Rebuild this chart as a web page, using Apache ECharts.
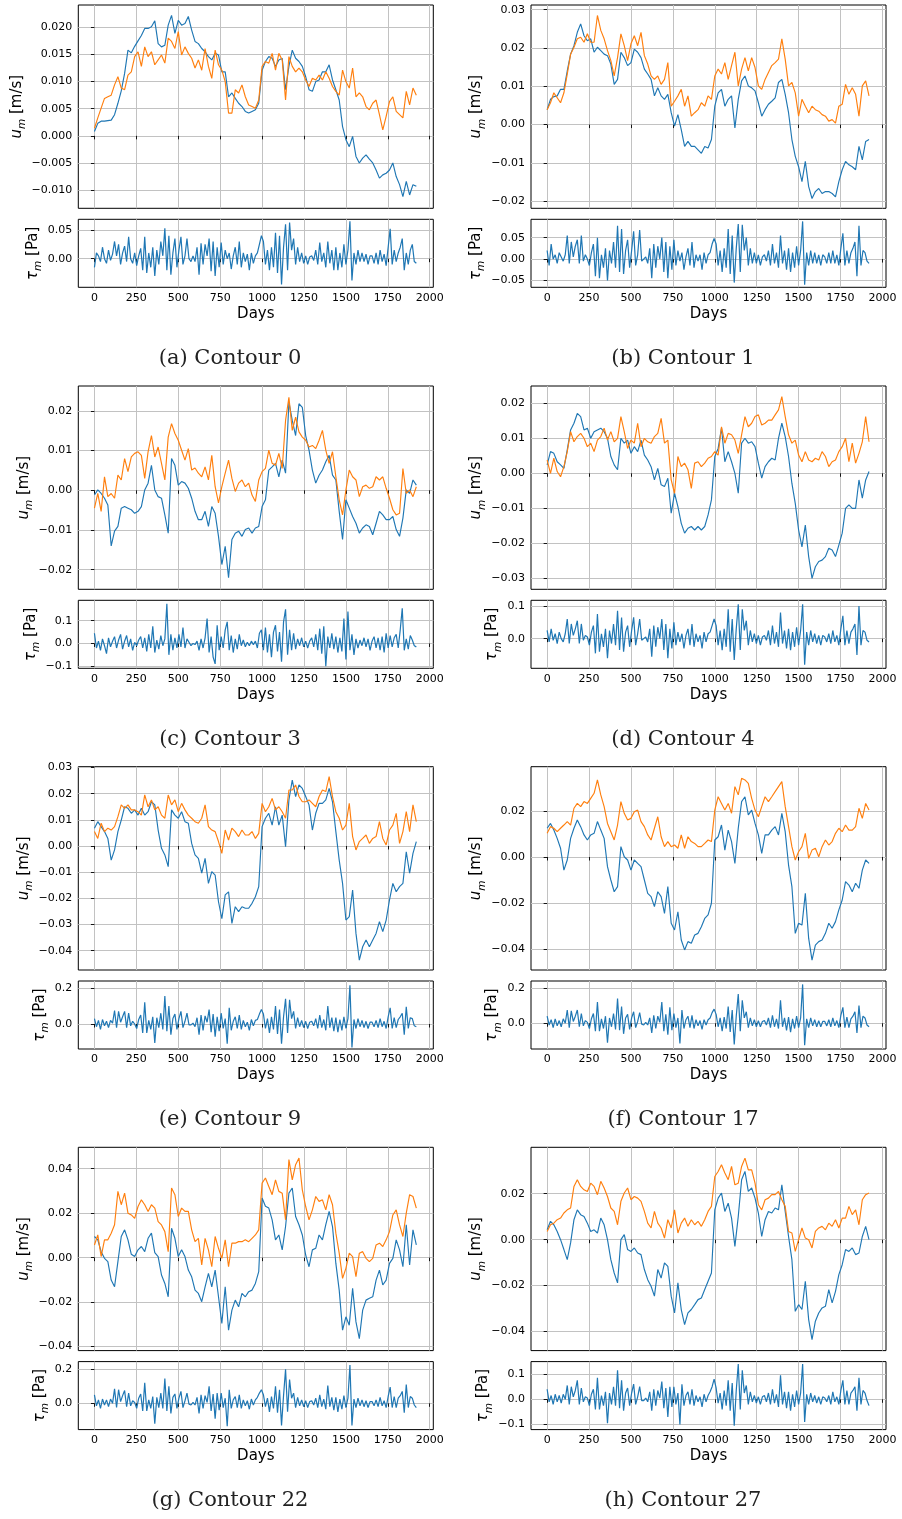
<!DOCTYPE html>
<html>
<head>
<meta charset="utf-8">
<script src="https://cdn.jsdelivr.net/npm/echarts@6/dist/echarts.min.js"></script>
<style>
html,body{margin:0;padding:0;background:#fff;}
#chart{width:902px;height:1519px;}
</style>
</head>
<body>
<div id="chart"></div>
<script>
// Sampling grids in days
const U_STEP = 20;   // u_m series: one sample every 20 days, days 0..1920
const T_STEP = 12;   // tau_m series: one sample every 12 days, days 0..1920
const dayTicks = [0, 250, 500, 750, 1000, 1250, 1500, 1750, 2000];

// ---- u_m in mm/s (blue = first series, orange = second series) ----
const c0Blue = [
  0.8, 2.3, 2.7, 2.7, 2.8, 2.9, 3.9, 6.0, 8.3, 11.5,
  15.8, 15.3, 16.5, 17.5, 18.5, 19.8, 19.8, 20.1, 21.2, 17.0,
  16.4, 16.7, 20.4, 22.2, 18.9, 21.3, 20.4, 20.7, 22.0, 19.5,
  17.4, 17.0, 16.1, 15.5, 14.6, 14.0, 15.2, 14.9, 11.8, 11.8,
  7.2, 7.9, 6.9, 6.0, 5.4, 4.5, 4.2, 4.5, 4.8, 6.0,
  12.1, 13.7, 14.6, 14.3, 12.8, 14.0, 14.3, 8.5, 12.8, 15.8,
  14.3, 13.7, 12.8, 10.9, 8.5, 8.2, 10.0, 10.3, 11.8, 11.8,
  13.1, 10.3, 8.5, 6.6, 1.7, -0.7, -2.0, -0.1, -3.8, -5.0,
  -4.1, -3.5, -4.3, -5.0, -6.3, -7.8, -7.2, -6.9, -6.3, -5.0,
  -7.5, -9.0, -11.2, -8.4, -10.9, -9.0, -9.3
];
const c0Orange = [
  1.4, 3.3, 5.1, 6.9, 7.2, 7.5, 9.4, 10.9, 8.8, 8.5,
  11.2, 11.8, 14.6, 15.5, 12.8, 16.4, 14.6, 15.5, 13.1, 14.0,
  14.9, 13.4, 18.0, 17.4, 16.1, 19.2, 14.9, 16.4, 15.2, 14.3,
  12.5, 14.0, 12.1, 16.1, 12.8, 10.6, 15.8, 13.1, 12.1, 10.0,
  4.2, 4.2, 8.5, 7.9, 9.4, 7.2, 5.7, 5.4, 5.1, 6.6,
  12.8, 13.7, 13.4, 15.2, 12.1, 15.2, 14.0, 6.6, 14.6, 12.8,
  11.8, 12.5, 11.8, 10.3, 9.1, 10.6, 10.3, 11.2, 10.3, 11.8,
  10.6, 9.1, 8.2, 7.5, 12.1, 10.0, 8.8, 12.5, 7.2, 7.9,
  7.2, 5.4, 4.8, 6.0, 6.6, 3.9, 1.1, 3.6, 6.3, 7.2,
  4.5, 3.9, 3.3, 8.2, 5.7, 8.8, 7.5
];
const c1Blue = [
  3.9, 6.6, 7.3, 7.5, 9.2, 9.2, 14.0, 18.4, 20.6, 24.1,
  26.3, 23.2, 21.9, 22.4, 18.9, 20.2, 19.3, 18.4, 18.0, 15.8,
  10.5, 11.8, 18.9, 17.5, 15.4, 16.2, 19.7, 18.9, 17.5, 14.5,
  13.2, 11.8, 7.5, 9.6, 7.5, 6.6, 7.9, 3.1, -0.4, 2.6,
  -1.3, -5.7, -4.4, -5.7, -5.7, -6.6, -7.5, -5.7, -6.1, -3.9,
  4.8, 8.3, 9.2, 4.8, 6.6, 7.5, -0.9, 6.6, 11.4, 12.7,
  10.1, 9.6, 8.8, 5.7, 2.2, 3.9, 5.3, 6.1, 7.0, 11.0,
  11.8, 7.9, 3.1, -3.9, -8.3, -11.0, -14.9, -9.6, -16.2, -19.3,
  -17.5, -16.7, -18.0, -17.5, -17.5, -18.0, -18.9, -14.9, -11.8, -9.6,
  -10.5, -11.0, -11.8, -5.7, -9.2, -4.4, -3.9
];
const c1Orange = [
  3.9, 5.7, 8.3, 7.0, 5.7, 8.3, 13.2, 18.4, 20.2, 22.4,
  22.8, 21.5, 23.7, 21.5, 21.5, 28.5, 24.6, 22.4, 19.3, 16.7,
  12.7, 17.5, 23.7, 20.6, 16.7, 21.1, 23.2, 20.6, 24.1, 18.0,
  15.8, 12.7, 11.8, 12.7, 10.5, 11.8, 16.2, 4.8, 6.1, 7.5,
  9.2, 4.8, 7.5, 2.2, 3.1, 3.9, 5.7, 4.8, 7.5, 6.6,
  12.7, 14.5, 13.2, 16.2, 11.8, 15.4, 18.9, 10.1, 14.5, 17.5,
  14.0, 17.5, 14.9, 10.1, 9.2, 11.8, 13.6, 15.4, 16.2, 17.1,
  22.4, 17.1, 10.1, 11.0, 8.3, 2.2, 6.6, 4.8, 3.1, 4.8,
  3.9, 3.5, 2.6, 2.2, 0.9, 1.3, 0.4, 4.8, 5.3, 10.5,
  7.9, 9.6, 7.9, 2.2, 10.1, 11.4, 7.5
];
const c3Blue = [
  -1.2, 0.1, -0.8, -2.0, -3.7, -14.0, -10.3, -9.1, -4.5, -4.1,
  -4.5, -4.9, -5.8, -5.3, -4.1, 0.1, 1.8, 6.3, 0.1, -1.6,
  -2.0, -6.2, -10.8, 8.0, 6.3, 1.3, 2.2, 1.8, 0.5, -2.0,
  -5.3, -7.4, -7.4, -5.3, -9.1, -4.1, -5.8, -11.6, -18.7, -14.1,
  -22.0, -12.4, -10.8, -10.3, -11.6, -9.9, -9.5, -10.8, -9.5, -9.1,
  -4.1, -2.4, 5.1, 5.9, 6.8, 3.4, 7.6, 4.3, 22.2, 17.6,
  13.8, 21.8, 20.9, 13.8, 10.1, 5.1, 1.8, 3.8, 5.1, 7.2,
  8.8, 3.8, 2.6, -5.3, -12.4, -2.4, -4.5, -6.6, -8.3, -10.8,
  -9.5, -8.7, -9.1, -11.2, -8.3, -5.3, -6.2, -7.4, -7.4, -6.6,
  -9.9, -11.6, -7.0, 0.1, -0.8, 2.6, 1.3
];
const c3Orange = [
  -4.5, -0.8, -5.3, 3.4, -1.6, -0.8, -2.0, 3.8, 2.6, 8.0,
  4.7, 8.4, 9.3, 9.7, 8.8, 3.0, 9.7, 13.8, 8.4, 10.9,
  6.8, 2.6, 13.4, 16.8, 14.3, 12.6, 10.1, 7.6, 10.5, 5.1,
  5.6, 4.3, 3.4, 5.9, 2.6, 8.8, 0.9, -3.2, 0.9, 4.3,
  7.6, 3.0, -0.3, 1.8, 2.6, 0.9, 1.8, -1.2, -2.8, 2.6,
  4.7, 5.5, 10.1, 6.8, 6.3, 9.3, 5.5, 17.6, 23.4, 15.1,
  18.4, 14.7, 13.4, 12.6, 10.9, 11.3, 10.5, 12.6, 15.1, 10.1,
  6.8, 9.7, 3.4, -2.4, -6.2, 0.1, 5.1, 3.4, 2.6, -1.6,
  0.9, 1.3, 0.5, 0.9, 3.4, 2.6, 3.4, 0.5, -2.0, -4.9,
  -6.2, -5.8, 5.5, -0.8, 0.1, -1.6, 0.9
];
const c4Blue = [
  2.4, 6.2, 5.7, 3.3, 2.4, 1.4, 6.7, 12.4, 14.3, 17.1,
  16.2, 12.4, 12.9, 10.0, 11.9, 12.4, 12.9, 11.9, 10.0, 4.8,
  2.4, 1.0, 10.0, 8.6, 9.5, 5.7, 7.6, 6.2, 9.5, 5.2,
  3.8, 1.9, -1.9, 1.4, -3.3, -3.8, -1.4, -11.4, -5.7, -9.5,
  -14.3, -17.1, -15.7, -15.2, -16.2, -15.2, -16.2, -15.2, -11.9, -7.6,
  4.8, 7.1, 12.9, 3.3, 6.2, 3.3, 0.0, -5.7, 8.6, 10.0,
  8.6, 9.0, 7.6, 2.9, -1.4, 1.9, 3.3, 4.3, 3.8, 10.0,
  14.3, 10.5, 4.8, -2.9, -8.6, -16.2, -21.0, -14.8, -23.8, -30.0,
  -26.7, -25.2, -24.8, -23.8, -21.4, -21.9, -23.8, -20.5, -17.1, -10.0,
  -9.0, -10.0, -10.0, -1.9, -7.1, -1.9, 0.5
];
const c4Orange = [
  3.8, 0.0, 4.3, 0.5, -1.0, 1.9, 6.2, 11.9, 9.0, 10.5,
  11.4, 10.0, 7.6, 8.6, 6.2, 9.5, 10.5, 12.9, 9.5, 11.9,
  9.0, 10.0, 16.2, 11.9, 7.1, 9.5, 8.6, 14.3, 7.6, 10.0,
  9.0, 8.6, 10.5, 11.4, 15.7, 8.6, 9.5, -1.9, -5.7, 4.8,
  1.9, 2.9, 1.0, -4.3, 2.9, 3.3, 1.9, 2.9, 4.3, 4.8,
  6.2, 5.2, 13.3, 8.6, 11.4, 11.0, 9.5, 5.7, 11.0, 16.2,
  13.3, 14.3, 16.2, 16.7, 13.8, 14.3, 15.2, 15.2, 16.7, 18.1,
  21.9, 16.2, 11.0, 8.6, 9.5, 5.2, 3.3, 6.2, 3.8, 3.3,
  4.3, 3.8, 6.2, 4.8, 1.9, 3.3, 3.8, 6.2, 7.6, 10.0,
  3.3, 8.6, 2.9, 5.7, 9.0, 16.2, 9.0
];
const c9Blue = [
  6.8, 9.3, 7.4, 5.5, 2.9, -5.4, -1.5, 5.5, 9.9, 15.0,
  14.4, 12.5, 13.8, 11.8, 14.4, 11.8, 13.1, 16.9, 15.7, 6.1,
  -0.9, -3.4, -7.9, 13.8, 11.8, 10.6, 13.1, 9.3, 8.7, 1.0,
  -3.4, -4.7, -10.4, -4.7, -14.3, -9.8, -11.1, -21.3, -27.8, -18.7,
  -17.5, -29.6, -23.2, -25.1, -23.2, -23.8, -23.8, -21.9, -19.4, -15.5,
  7.4, 10.6, 12.5, 8.0, 15.0, 8.0, 11.8, -0.3, 17.6, 25.2,
  18.9, 23.3, 22.0, 18.9, 15.7, 6.1, 12.5, 16.3, 16.3, 17.6,
  22.0, 16.9, 5.5, -5.4, -14.3, -28.3, -27.0, -16.8, -33.4, -43.6,
  -38.5, -35.9, -38.5, -35.9, -33.4, -28.9, -32.7, -28.3, -20.6, -14.3,
  -17.5, -15.5, -14.3, -2.2, -10.4, -2.8, 1.7
];
const c9Orange = [
  5.5, 2.9, 8.7, 5.5, 6.8, 6.1, 7.4, 11.2, 15.7, 14.4,
  15.7, 13.8, 13.8, 13.1, 11.8, 19.5, 15.0, 17.6, 13.8, 15.0,
  11.8, 10.6, 19.5, 15.7, 17.6, 13.1, 16.3, 13.8, 11.8, 10.6,
  9.3, 8.7, 10.6, 15.7, 7.4, 6.1, 5.5, 1.7, -2.8, 6.1,
  2.3, 6.8, 5.5, 3.6, 6.1, 4.2, 4.2, 5.5, 2.9, 4.8,
  16.3, 13.1, 15.0, 18.2, 13.8, 15.0, 13.1, 10.6, 21.4, 21.4,
  23.3, 18.9, 16.9, 16.9, 17.6, 16.3, 15.0, 18.9, 21.4, 20.8,
  26.5, 18.9, 13.1, 10.6, 6.1, 8.0, 16.3, 3.6, -1.5, 1.7,
  2.9, 4.2, 1.0, 2.9, 3.6, 9.3, 2.9, 0.4, 6.1, 8.0,
  12.5, 1.0, 5.5, 13.1, 5.5, 15.7, 9.3
];
const c17Blue = [
  12.5, 14.6, 11.7, 8.1, 3.8, -5.7, -1.3, 8.1, 12.5, 16.1,
  13.2, 9.6, 7.4, 9.6, 10.3, 15.4, 11.7, 8.1, -4.2, -10.0,
  -15.1, -12.9, 4.5, 0.1, -1.3, -5.7, -1.3, -2.8, -4.2, -10.0,
  -15.8, -17.2, -21.6, -15.1, -17.2, -24.5, -12.9, -28.8, -31.7, -23.8,
  -36.1, -40.4, -36.8, -37.5, -33.9, -33.2, -30.3, -26.7, -25.2, -20.1,
  7.4, 8.8, 13.9, 3.0, 11.7, 6.7, -2.8, 12.5, 24.1, 26.2,
  18.3, 20.4, 14.6, 9.6, 1.6, 9.6, 9.6, 11.7, 13.2, 9.6,
  19.0, 11.0, -3.5, -12.9, -33.2, -28.8, -29.6, -15.8, -35.4, -44.8,
  -38.3, -36.8, -36.1, -33.2, -28.8, -31.0, -28.1, -23.0, -18.7, -10.7,
  -12.2, -15.1, -11.4, -13.6, -5.7, -1.3, -2.8
];
const c17Orange = [
  10.3, 13.2, 12.5, 11.0, 12.5, 13.9, 15.4, 13.9, 21.2, 23.3,
  21.9, 24.1, 23.3, 25.5, 27.7, 33.5, 27.0, 21.9, 14.6, 11.0,
  7.4, 13.9, 24.1, 19.0, 16.1, 16.8, 19.7, 20.4, 15.4, 13.2,
  9.6, 7.4, 12.5, 17.5, 8.8, 4.5, 6.7, 4.5, 5.2, 3.8,
  9.6, 3.8, 8.8, 6.7, 5.9, 4.5, 4.5, 5.9, 7.4, 6.7,
  20.4, 26.2, 23.3, 20.4, 23.3, 19.0, 30.6, 27.0, 34.2, 33.5,
  32.0, 25.5, 20.4, 17.5, 21.9, 26.2, 24.1, 26.2, 28.4, 30.6,
  32.8, 21.9, 13.2, 4.5, -1.3, 2.3, 4.5, 10.3, -0.6, 3.0,
  3.8, 0.1, 4.5, 7.4, 5.2, 6.7, 10.3, 12.5, 11.0, 13.9,
  11.7, 11.7, 13.2, 21.2, 16.8, 23.3, 20.4
];
const c22Blue = [
  9.5, 8.0, 2.7, -0.3, -1.8, -10.1, -13.1, -1.8, 9.5, 12.5,
  8.0, 1.5, 0.5, 3.5, 5.0, 2.7, 8.7, 11.0, 2.3, 0.5,
  -7.8, -11.6, -17.6, 13.2, 8.7, 0.5, 3.5, 0.5, -5.6, -8.6,
  -14.6, -16.1, -19.8, -13.1, -7.1, -13.1, -5.6, -17.6, -29.6, -13.1,
  -32.6, -23.6, -19.1, -22.1, -16.1, -17.6, -15.3, -14.6, -11.6, -6.3,
  26.8, 23.1, 22.3, 17.0, 8.0, 10.2, 3.5, 14.0, 29.0, 31.3,
  18.5, 14.8, 10.2, 1.2, -4.1, 3.5, 4.2, 10.2, 8.0, 14.8,
  20.8, 14.0, -2.6, -14.6, -32.6, -26.6, -30.4, -13.8, -28.9, -36.4,
  -23.6, -19.1, -18.3, -17.6, -10.1, -5.6, -12.3, -10.1, -2.6, -0.3,
  8.0, 3.5, -4.1, 14.8, -3.3, 12.5, 5.7
];
const c22Orange = [
  5.7, 10.2, 0.5, 8.0, 8.0, 11.0, 14.8, 29.8, 23.8, 29.0,
  20.0, 19.2, 17.7, 23.0, 26.0, 23.8, 20.8, 23.8, 22.3, 16.2,
  14.7, 11.7, 2.7, 31.3, 28.3, 18.5, 22.3, 20.8, 20.8, 12.5,
  7.2, 8.7, -3.3, 8.7, 3.5, -4.1, 9.5, 4.2, -0.3, 8.0,
  -4.1, 6.5, 6.5, 7.2, 7.2, 8.0, 7.2, 8.7, 10.2, 12.5,
  33.5, 35.8, 32.0, 28.3, 35.0, 29.8, 29.0, 17.0, 44.1, 35.0,
  41.8, 44.8, 30.5, 23.0, 17.0, 21.5, 27.5, 25.3, 26.0, 21.5,
  28.3, 23.8, 11.0, 2.0, -9.3, -4.8, 2.0, 0.5, -8.6, 2.0,
  2.7, -0.3, -1.8, -0.3, 5.7, 6.5, 5.0, 8.0, 11.7, 19.2,
  21.5, 14.7, 9.5, 20.0, 28.3, 27.5, 22.3
];
const c27Blue = [
  4.3, 8.0, 6.5, 3.6, 0.0, -4.3, -8.7, -1.4, 8.7, 13.0,
  10.9, 10.1, 7.2, 3.6, 4.3, 2.9, 9.4, 6.5, 0.0, -8.7,
  -14.5, -18.8, 0.0, 2.2, -4.3, -5.1, -3.6, -5.8, -6.5, -13.0,
  -17.4, -20.3, -24.6, -13.0, -16.7, -10.1, -11.6, -24.6, -31.9, -18.8,
  -30.4, -37.0, -31.9, -30.4, -28.3, -26.1, -25.4, -21.7, -18.1, -14.5,
  13.0, 18.1, 20.3, 12.3, 15.9, 9.4, -2.9, 10.1, 26.1, 29.7,
  21.0, 22.5, 18.1, 11.6, 1.4, 8.7, 12.3, 11.6, 13.8, 13.0,
  23.9, 12.3, 1.4, -8.7, -31.2, -28.3, -30.4, -18.1, -34.8, -43.5,
  -35.5, -31.9, -29.7, -29.0, -21.7, -27.5, -22.5, -15.2, -10.9, -4.3,
  -5.1, -3.6, -6.5, -5.8, 1.4, 5.8, 0.0
];
const c27Orange = [
  3.6, 6.5, 7.2, 8.7, 9.4, 11.6, 13.0, 13.8, 23.2, 26.1,
  23.2, 21.7, 21.0, 24.6, 23.2, 19.6, 25.4, 22.5, 18.8, 13.8,
  12.3, 6.5, 16.7, 20.3, 22.5, 17.4, 18.8, 18.1, 16.7, 12.3,
  7.2, 5.1, 12.3, 7.2, 5.1, 0.7, 8.7, 5.1, 13.0, 2.9,
  7.2, 9.4, 5.8, 8.7, 6.5, 8.0, 5.8, 8.7, 12.3, 14.5,
  27.5, 29.7, 32.6, 29.0, 26.1, 31.9, 23.9, 24.6, 31.9, 35.5,
  30.4, 30.4, 24.6, 15.2, 13.0, 17.4, 18.1, 19.6, 19.6, 21.0,
  17.4, 14.5, 3.6, 2.9, -5.1, 0.0, 5.1, 0.7, 0.0, -3.6,
  3.6, 5.1, 5.8, 4.3, 7.2, 5.8, 8.7, 5.1, 9.4, 9.4,
  14.5, 10.9, 13.0, 6.5, 17.4, 19.6, 20.3
];

// ---- tau_m in mPa ----
const c0Tau = [
  -15, 10, 5, -5, 20, 0, -8, 15, -3, 8,
  30, 5, 25, -10, 10, 22, -5, 38, 0, -8,
  10, -12, 5, 18, -20, 38, -25, 10, -15, 20,
  -30, 15, -10, 30, 5, 53, -20, 40, -28, 10,
  35, -15, 15, 38, -10, 5, 35, 0, -5, 5,
  -5, 20, -28, 27, -10, 25, 5, 35, -22, 30,
  -30, 20, -15, 28, -10, 15, 0, 10, -18, 5,
  20, -10, 30, -15, 10, -5, 8, -20, 10, -8,
  5, 10, 25, 40, 30, -10, 15, -20, 20, -15,
  45, -25, 40, -45, 20, 60, -20, 63, 15, 35,
  -10, 20, -5, 10, -8, 5, -10, 3, 5, -3,
  15, -10, 28, -5, 10, -15, 30, -8, 15, -20,
  20, -20, 10, -15, 25, -10, 15, 65, -38, 10,
  -10, 15, -5, 10, -5, 8, -10, 5, 5, -8,
  10, -10, 15, -5, 8, -12, 20, 52, -10, 15,
  -5, 10, 20, 35, -20, 10, -10, 15, 25, -5,
  -8
];
const c1Tau = [
  20, -15, 35, 0, 10, -10, 15, 5, -5, 10,
  55, -10, 40, 5, 30, 45, -10, 55, -5, 10,
  0, -15, 15, 35, -40, 50, -45, 10, -20, 25,
  -50, 20, -10, 40, -20, 78, -30, 70, -35, 20,
  45, -20, 20, 65, -15, 10, 68, -5, 0, 5,
  -10, 25, -45, 35, -20, 30, 0, 50, -30, 40,
  -45, 30, -25, 45, -15, 20, -5, 15, -25, 5,
  25, -15, 40, -20, 10, -5, 10, -25, 15, -10,
  10, 15, 35, 48, 35, -15, 20, -30, 25, -20,
  70, -35, 55, -55, 25, 82, -30, 80, 20, 50,
  -15, 25, -10, 15, -10, 10, -15, 5, 10, -5,
  20, -15, 35, -10, 15, -20, 55, -10, 20, -25,
  25, -30, 15, -20, 30, -15, 20, 88, -60, 15,
  -15, 20, -10, 15, -10, 10, -15, 10, 5, -10,
  15, -10, 20, -10, 10, -15, 25, 60, -15, 20,
  -10, 15, 25, 40, -40, 78, -15, 20, 15, -5,
  -10
];
const c3Tau = [
  45, -20, 10, -30, 20, -10, -45, 25, -15, 10,
  30, -20, 15, 40, -25, 10, 35, -15, 20, -30,
  5, -10, 15, 30, -20, 25, -35, 40, -20, 75,
  -40, 15, -25, 35, -10, 20, 175, -50, 40, -30,
  25, -20, 40, -15, 70, -20, 20, 5, -10, 0,
  -5, 10, -30, 20, -20, 25, 110, -40, 30, -60,
  -90, 80, -30, 30, -20, 60, 95, -30, 35, -40,
  20, -25, 40, -10, 15, -15, 5, -10, 10, -5,
  10, -20, 45, 60, -30, 70, -40, 40, -60, 50,
  80, -35, 50, -80, 95, 150, -50, 60, -30, 45,
  -25, 20, -10, 25, -15, 10, -20, 10, 25, -15,
  40, -30, 65, -45, 75, -100, 30, -20, 45, -25,
  30, -40, 25, -35, 110, -70, 140, -30, 40, -50,
  20, -20, 15, -10, 25, -15, 20, -30, 10, 30,
  -20, 25, -30, 30, -40, 45, -20, 35, -15, 25,
  40, -20, 60, 155, -30, 20, -25, 35, 15, -10,
  -15
];
const c4Tau = [
  25, -10, 30, -5, 15, -15, 20, 0, -10, 15,
  60, -15, 45, 10, 30, 55, -15, 45, -5, 10,
  5, -20, 20, 40, -45, 75, -40, 15, -25, 30,
  -60, 25, -15, 45, -20, 85, -35, 65, -40, 20,
  40, -25, 25, 65, -20, 15, 60, -5, 0, 5,
  -10, 30, -55, 40, -25, 35, 0, 60, -35, 45,
  -60, 30, -30, 50, -20, 20, -10, 15, -30, 10,
  30, -20, 45, -25, 15, -10, 10, -30, 20, -10,
  15, 20, 40, 60, 40, -20, 25, -35, 30, -25,
  90, -40, 60, -65, 30, 105, -35, 90, 25, 55,
  -20, 25, -10, 15, -15, 10, -20, 5, 10, -5,
  25, -20, 40, -15, 20, -25, 80, -15, 25, -30,
  30, -35, 20, -25, 35, -20, 25, 105, -80, 20,
  -20, 25, -10, 15, -15, 10, -20, 10, 5, -10,
  15, -15, 25, -10, 10, -20, 30, 70, -20, 25,
  -15, 20, 30, 45, -50, 100, -20, 25, 20, -5,
  -10
];
const c9Tau = [
  30, -15, 20, -30, 25, -10, 15, -20, 20, 5,
  75, -20, 70, 10, 40, 70, -20, 60, -10, 15,
  0, -25, 25, 50, -50, 120, -50, 20, -30, 40,
  -105, 35, -20, 60, -30, 155, -40, 100, -60, 30,
  55, -30, 30, 70, -20, 15, 60, -5, -5, 5,
  -15, 35, -60, 50, -35, 45, 10, 80, -45, 55,
  -70, 40, -40, 60, -25, 30, -110, 90, -35, 15,
  40, -25, 50, -30, 20, -15, 10, -35, 25, -10,
  20, 25, 55, 80, 55, -25, 30, -50, 40, -30,
  100, -55, 80, -110, 40, 140, -50, 135, 30, 70,
  -25, 35, -15, 20, -20, 15, -25, 10, 15, -10,
  30, -25, 50, -20, 25, -35, 100, -20, 35, -40,
  35, -45, 25, -35, 40, -25, 30, 215, -130, 25,
  -25, 30, -15, 20, -20, 15, -25, 10, 10, -15,
  20, -20, 30, -15, 15, -25, 40, 90, -25, 35,
  -20, 25, 40, 60, -60, 95, -25, 35, 30, -10,
  -15
];
const c17Tau = [
  40, -10, 20, -25, 25, -15, 15, -20, 25, 0,
  75, -25, 70, 10, 40, 75, -20, 55, -15, 15,
  5, -30, 25, 55, -45, 120, -45, 25, -30, 40,
  -110, 30, -20, 55, -35, 140, -40, 95, -60, 30,
  50, -35, 30, 65, -25, 10, 60, -5, -10, 5,
  -10, 30, -55, 45, -30, 40, 5, 120, -45, 50,
  -65, 90, -40, 55, -25, 30, -115, 75, -30, 20,
  40, -25, 45, -30, 20, -15, 15, -35, 20, -10,
  20, 30, 60, 80, 50, -20, 30, -45, 35, -30,
  95, -50, 75, -120, 40, 165, -45, 130, 30, 65,
  -25, 30, -15, 20, -20, 15, -20, 10, 15, -10,
  30, -25, 45, -20, 25, -30, 130, -20, 30, -40,
  35, -50, 25, -30, 40, -25, 30, 220, -125, 25,
  -25, 30, -15, 20, -20, 15, -20, 10, 10, -15,
  20, -20, 30, -15, 15, -25, 45, 90, -25, 35,
  -25, 25, 40, 65, -55, 100, -25, 40, 30, -10,
  -20
];
const c22Tau = [
  50, -15, 20, -30, 25, -10, 20, -20, 25, 0,
  85, -25, 80, 10, 45, 75, -20, 60, -15, 15,
  5, -30, 30, 55, -45, 120, -45, 20, -30, 40,
  -120, 35, -25, 60, -30, 145, -45, 100, -60, 35,
  55, -30, 30, 70, -25, 15, 60, -5, -10, 5,
  -10, 35, -60, 50, -30, 45, 5, 100, -45, 55,
  -90, 60, -40, 60, -25, 30, -135, 80, -30, 20,
  40, -25, 50, -30, 20, -15, 15, -35, 25, -10,
  20, 35, 60, 80, 50, -20, 30, -50, 40, -30,
  100, -55, 80, -130, 45, 200, -50, 140, 30, 60,
  -25, 35, -15, 20, -20, 15, -25, 10, 15, -10,
  30, -25, 50, -20, 25, -35, 105, -20, 35, -40,
  35, -50, 25, -35, 45, -25, 30, 225, -130, 25,
  -25, 30, -15, 20, -20, 15, -25, 10, 10, -15,
  20, -20, 35, -15, 15, -25, 40, 95, -25, 40,
  -25, 30, 45, 70, -55, 110, -25, 40, 30, -10,
  -25
];
const c27Tau = [
  40, -10, 15, -20, 20, -10, 15, -15, 20, 0,
  55, -20, 50, 10, 35, 75, -20, 45, -10, 10,
  5, -25, 20, 40, -40, 85, -40, 15, -25, 30,
  -95, 25, -20, 50, -25, 115, -35, 75, -45, 25,
  45, -25, 25, 60, -20, 10, 50, -5, -5, 5,
  -10, 30, -45, 40, -25, 35, 5, 70, -35, 45,
  -70, 50, -30, 50, -20, 25, -100, 60, -25, 15,
  30, -20, 40, -25, 15, -10, 10, -30, 20, -10,
  15, 30, 50, 80, 45, -15, 25, -40, 35, -25,
  75, -45, 65, -105, 35, 140, -40, 115, 25, 55,
  -20, 30, -10, 15, -15, 10, -20, 10, 15, -10,
  25, -20, 40, -15, 20, -30, 95, -20, 30, -35,
  30, -45, 20, -30, 35, -20, 25, 140, -90, 20,
  -20, 25, -10, 15, -15, 10, -20, 10, 5, -10,
  15, -20, 30, -10, 10, -20, 35, 75, -20, 35,
  -20, 25, 35, 50, -45, 85, -20, 35, 25, -5,
  -25
];

// ---- y tick values per panel ----
const c0UTicks = [-0.010, -0.005, 0, 0.005, 0.010, 0.015, 0.020];
const c0TTicks = [0, 0.05];
const c1UTicks = [-0.02, -0.01, 0, 0.01, 0.02, 0.03];
const c1TTicks = [-0.05, 0, 0.05];
const c3UTicks = [-0.02, -0.01, 0, 0.01, 0.02];
const c3TTicks = [-0.1, 0, 0.1];
const c4UTicks = [-0.03, -0.02, -0.01, 0, 0.01, 0.02];
const c4TTicks = [0, 0.1];
const c9UTicks = [-0.04, -0.03, -0.02, -0.01, 0, 0.01, 0.02, 0.03];
const c9TTicks = [0, 0.2];
const c17UTicks = [-0.04, -0.02, 0, 0.02];
const c17TTicks = [0, 0.2];
const c22UTicks = [-0.04, -0.02, 0, 0.02, 0.04];
const c22TTicks = [0, 0.2];
const c27UTicks = [-0.04, -0.02, 0, 0.02];
const c27TTicks = [-0.1, 0, 0.1];

const captions = ['(a) Contour 0', '(b) Contour 1', '(c) Contour 3', '(d) Contour 4',
                  '(e) Contour 9', '(f) Contour 17', '(g) Contour 22', '(h) Contour 27'];

const panels = [
  {blue: c0Blue, orange: c0Orange, tau: c0Tau, uTicks: c0UTicks, uDec: 3, uRange: [-0.01336, 0.02412], tTicks: c0TTicks, tDec: 2, tRange: [-0.0498, 0.0686]},
  {blue: c1Blue, orange: c1Orange, tau: c1Tau, uTicks: c1UTicks, uDec: 2, uRange: [-0.02186, 0.03123], tTicks: c1TTicks, tDec: 2, tRange: [-0.066, 0.0929]},
  {blue: c3Blue, orange: c3Orange, tau: c3Tau, uTicks: c3UTicks, uDec: 2, uRange: [-0.02494, 0.02627], tTicks: c3TTicks, tDec: 1, tRange: [-0.1093, 0.1898]},
  {blue: c4Blue, orange: c4Orange, tau: c4Tau, uTicks: c4UTicks, uDec: 2, uRange: [-0.03314, 0.02494], tTicks: c4TTicks, tDec: 1, tRange: [-0.0908, 0.1174]},
  {blue: c9Blue, orange: c9Orange, tau: c9Tau, uTicks: c9UTicks, uDec: 2, uRange: [-0.04738, 0.0303], tTicks: c9TTicks, tDec: 1, tRange: [-0.1389, 0.2389]},
  {blue: c17Blue, orange: c17Orange, tau: c17Tau, uTicks: c17UTicks, uDec: 2, uRange: [-0.04913, 0.03926], tTicks: c17TTicks, tDec: 1, tRange: [-0.146, 0.2393]},
  {blue: c22Blue, orange: c22Orange, tau: c22Tau, uTicks: c22UTicks, uDec: 2, uRange: [-0.0418, 0.04962], tTicks: c22TTicks, tDec: 1, tRange: [-0.1547, 0.2453]},
  {blue: c27Blue, orange: c27Orange, tau: c27Tau, uTicks: c27UTicks, uDec: 2, uRange: [-0.04829, 0.04022], tTicks: c27TTicks, tDec: 1, tRange: [-0.1202, 0.1496]}
];

// ---- layout (pixels) ----
const COL_LEFT = [78.3, 531];
const BOX_W = 355;
const ROW_TOP = [5, 386, 766.7, 1147.3];
const U_H = 203.3;
const T_OFF = 214.3;
const T_H = 68;
const X_RANGE = [-96.25, 2021.25];
const U_NAME_GAP = [50, 43, 43, 43, 43, 43, 43, 43];
const T_NAME_GAP = [34, 44, 36, 26, 26, 26, 26, 36];
const CAP_X = [230, 683];
const CAP_Y = [359, 740, 1120, 1501];

const BLUE = '#1f77b4', ORANGE = '#ff7f0e';
const GRID_COLOR = '#c2c2c2';
const FONT = 'DejaVu Sans';

const fmt = (v, d) => v.toFixed(d).replace('-', '\u2212');
const stepOf = t => +(t[1] - t[0]).toPrecision(6);

const nameStyle = {
  fontFamily: FONT, fontSize: 15, color: '#000', lineHeight: 22,
  rich: {
    i: {fontFamily: FONT, fontStyle: 'italic', fontSize: 15, lineHeight: 22, color: '#000'},
    s: {fontFamily: FONT, fontStyle: 'italic', fontSize: 10.5, lineHeight: 12, verticalAlign: 'bottom', color: '#000'}
  }
};

const grid = [], xAxis = [], yAxis = [], series = [], graphic = [];

function makeX(gi, withLabels) {
  return {
    type: 'value', gridIndex: gi, min: X_RANGE[0], max: X_RANGE[1],
    minInterval: 250, maxInterval: 250,
    axisLine: {show: false},
    axisTick: {show: true, length: 3.5, customValues: dayTicks, lineStyle: {color: '#000', width: 0.9}},
    axisLabel: withLabels
      ? {show: true, customValues: dayTicks, margin: 5, fontFamily: FONT, fontSize: 11, color: '#000',
         formatter: v => String(Math.round(v))}
      : {show: false},
    splitLine: {show: true, lineStyle: {color: GRID_COLOR, width: 1}},
    name: withLabels ? 'Days' : '', nameLocation: 'middle', nameGap: 19,
    nameTextStyle: {fontFamily: FONT, fontSize: 15, color: '#000'}
  };
}
function makeY(gi, ticks, dec, range, name, gap) {
  const step = stepOf(ticks);
  return {
    type: 'value', gridIndex: gi, min: range[0], max: range[1],
    minInterval: step, maxInterval: step,
    axisLine: {show: false},
    axisTick: {show: true, length: 3.5, customValues: ticks, lineStyle: {color: '#000', width: 0.9}},
    axisLabel: {show: true, customValues: ticks, margin: 6, fontFamily: FONT, fontSize: 11, color: '#000',
                formatter: v => fmt(v, dec)},
    splitLine: {show: true, lineStyle: {color: GRID_COLOR, width: 1}},
    name, nameLocation: 'middle', nameRotate: 90, nameGap: gap, nameTextStyle: nameStyle
  };
}

panels.forEach((p, k) => {
  const col = k % 2, row = Math.floor(k / 2);
  const left = COL_LEFT[col], top = ROW_TOP[row];
  const gi = grid.length;
  const box = {show: true, borderColor: '#000', borderWidth: 1, backgroundColor: 'rgba(0,0,0,0)',
               containLabel: false, outerBoundsMode: 'none'};
  grid.push(Object.assign({left, top, width: BOX_W, height: U_H}, box));
  grid.push(Object.assign({left, top: top + T_OFF, width: BOX_W, height: T_H}, box));
  xAxis.push(makeX(gi, false), makeX(gi + 1, true));
  yAxis.push(makeY(gi, p.uTicks, p.uDec, p.uRange, '{i|u}{s|m} [m/s]', U_NAME_GAP[k]));
  yAxis.push(makeY(gi + 1, p.tTicks, p.tDec, p.tRange, '{i|\u03c4}{s|m} [Pa]', T_NAME_GAP[k]));
  const line = (color, w) => ({type: 'line', showSymbol: false, symbol: 'none', silent: true,
                               lineStyle: {color, width: w}, itemStyle: {color}});
  series.push(Object.assign(line(BLUE, 1.15), {xAxisIndex: gi, yAxisIndex: gi,
    data: p.blue.map((v, i) => [i * U_STEP, v / 1000])}));
  series.push(Object.assign(line(ORANGE, 1.15), {xAxisIndex: gi, yAxisIndex: gi,
    data: p.orange.map((v, i) => [i * U_STEP, v / 1000])}));
  series.push(Object.assign(line(BLUE, 1.2), {xAxisIndex: gi + 1, yAxisIndex: gi + 1,
    data: p.tau.map((v, i) => [i * T_STEP, v / 1000])}));
  graphic.push({type: 'text', x: CAP_X[col], y: CAP_Y[row], silent: true,
    style: {text: captions[k], font: '21px "DejaVu Serif"', fill: '#222', textAlign: 'center', textVerticalAlign: 'middle'}});
});

const chart = echarts.init(document.getElementById('chart'), null, {renderer: 'canvas'});
chart.setOption({animation: false, backgroundColor: '#fff', grid, xAxis, yAxis, series, graphic});
</script>
</body>
</html>
